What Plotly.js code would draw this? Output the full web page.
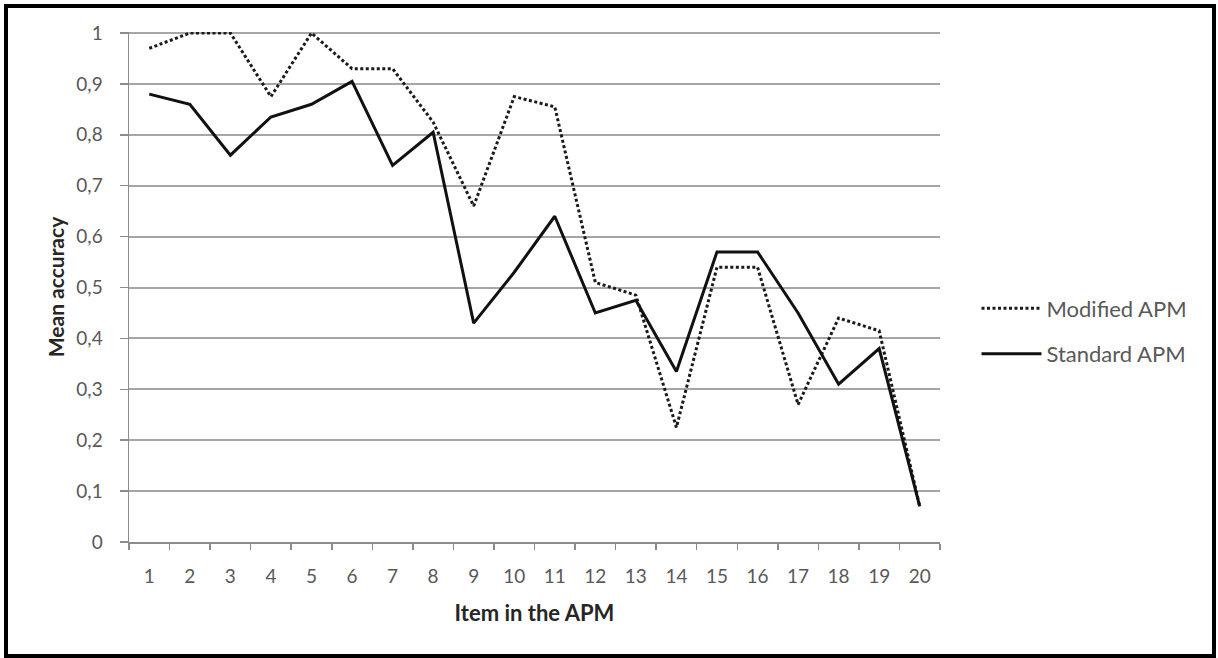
<!DOCTYPE html>
<html>
<head>
<meta charset="utf-8">
<script src="https://cdn.plot.ly/plotly-3.0.1.min.js"></script>
<style>
  html, body { margin: 0; padding: 0; background: #fff; }
  #wrap { position: relative; width: 1218px; height: 658px; }
  #chart { position: absolute; left: 0; top: 0; width: 1218px; height: 658px; }
  #frame { position: absolute; left: 4px; top: 4px; width: 1212px; height: 654px; box-sizing: border-box; border: 4px solid #000; pointer-events: none; }
</style>
</head>
<body>
<div id="wrap">
  <div id="chart"></div>
  <div id="frame"></div>
</div>
<script>
const items = ["1","2","3","4","5","6","7","8","9","10","11","12","13","14","15","16","17","18","19","20"];
const modifiedAPM = [0.97, 1.0, 1.0, 0.875, 1.0, 0.93, 0.93, 0.825, 0.66, 0.875, 0.855, 0.51, 0.485, 0.225, 0.54, 0.54, 0.27, 0.44, 0.415, 0.07];
const standardAPM = [0.88, 0.86, 0.76, 0.835, 0.86, 0.905, 0.74, 0.805, 0.43, 0.53, 0.64, 0.45, 0.475, 0.335, 0.57, 0.57, 0.45, 0.31, 0.38, 0.07];
const yTickVals = [0, 0.1, 0.2, 0.3, 0.4, 0.5, 0.6, 0.7, 0.8, 0.9, 1];
const yTickText = ["0", "0,1", "0,2", "0,3", "0,4", "0,5", "0,6", "0,7", "0,8", "0,9", "1"];

const fontFam = "Lato, 'Open Sans', sans-serif";
const textGray = "#595959";

const traces = [
  {
    x: items, y: modifiedAPM, name: "Modified APM", type: "scatter", mode: "lines",
    line: { color: "#1a1a1a", width: 3, dash: "3px,2.5px" }, legendgroup: "a"
  },
  {
    x: items, y: standardAPM, name: "Standard APM", type: "scatter", mode: "lines",
    line: { color: "#111", width: 3 }, legendgroup: "b"
  }
];

const layout = {
  width: 1218, height: 658,
  margin: { l: 129, r: 278, t: 32, b: 116, pad: 0 },
  paper_bgcolor: "#fff", plot_bgcolor: "#fff",
  font: { family: fontFam, color: textGray, size: 19 },
  showlegend: true,
  legend: {
    x: 1.045, xanchor: "left", y: 0.413, yanchor: "middle",
    traceorder: "grouped", tracegroupgap: 14,
    font: { family: fontFam, size: 22, color: textGray },
    bgcolor: "rgba(0,0,0,0)", itemwidth: 60
  },
  xaxis: {
    type: "category",
    range: [-0.5, 19.5],
    tickson: "boundaries",
    ticks: "outside", ticklen: 6, tickcolor: "#8c8c8c", tickwidth: 1.5,
    ticklabelstandoff: 17,
    showline: true, linecolor: "#8c8c8c", linewidth: 1.5,
    showgrid: false, zeroline: false,
    tickfont: { family: fontFam, size: 19, color: textGray },
    title: { text: "<b>Item in the APM</b>", font: { family: fontFam, size: 22, color: "#262626" }, standoff: 19 }
  },
  yaxis: {
    range: [0, 1.002],
    tickvals: yTickVals, ticktext: yTickText,
    ticks: "outside", ticklen: 8, tickcolor: "#8c8c8c", tickwidth: 1.5,
    ticklabelstandoff: 13,
    showline: true, linecolor: "#8c8c8c", linewidth: 1.5,
    showgrid: true, gridcolor: "#a6a6a6", gridwidth: 2,
    zeroline: false,
    tickfont: { family: fontFam, size: 19, color: textGray },
    title: { text: "<b>Mean accuracy</b>", font: { family: fontFam, size: 21, color: "#262626" }, standoff: 6 }
  }
};

Plotly.newPlot("chart", traces, layout, { staticPlot: true, displayModeBar: false });
</script>
</body>
</html>
